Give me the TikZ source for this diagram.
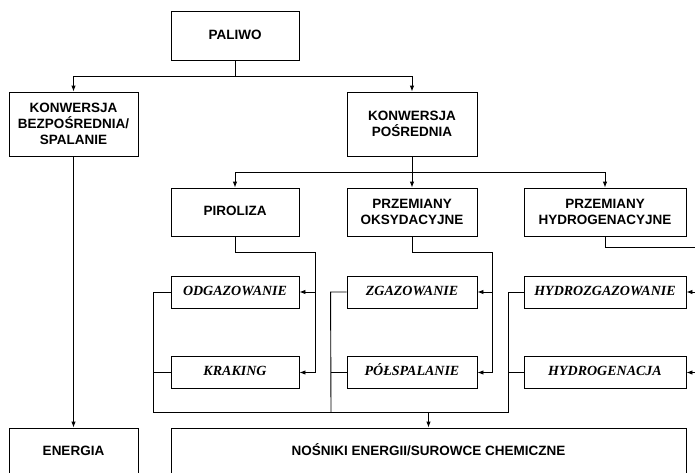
\documentclass[tikz,border=0pt]{standalone}
\usepackage{fontspec}
\setmainfont{Liberation Serif}
\setsansfont{Liberation Sans}
\usetikzlibrary{positioning, arrows.meta}

\begin{document}
\begin{tikzpicture}[>={Latex[length=6pt,width=4.5pt]}, x=1pt, y=-1pt, line width=0.9pt]
    \tikzstyle{blok}=[draw=black, rectangle, inner sep=0pt, align=center, font=\sffamily\bfseries\fontsize{13.5}{16}\selectfont]
    \tikzstyle{jedna}=[text height=10pt, text depth=3pt]
    \tikzstyle{proces}=[draw=black, rectangle, inner sep=0pt, minimum height=32pt, text height=9.5pt, text depth=3pt, font=\rmfamily\bfseries\itshape\fontsize{14}{16}\selectfont]
    \clip (0,0) rectangle (695,472);

    \node[blok, jedna, minimum width=128pt, minimum height=49pt] (paliwo) at (235,35.5) {PALIWO};
    \node[blok, minimum width=129pt, minimum height=64pt] (bezp) at (73.5,124) {KONWERSJA\\BEZPOŚREDNIA/\\SPALANIE};
    \node[blok, minimum width=130pt, minimum height=64pt] (posr) at (412,124) {KONWERSJA\\POŚREDNIA};
    \node[blok, jedna, minimum width=128pt, minimum height=48pt] (piroliza) at (235,212) {PIROLIZA};
    \node[blok, minimum width=130pt, minimum height=48pt] (oksy) at (412,212) {PRZEMIANY\\OKSYDACYJNE};
    \node[blok, minimum width=162pt, minimum height=48pt] (hydro) at (605,212) {PRZEMIANY\\HYDROGENACYJNE};

    \node[proces, minimum width=128pt] (odgaz) at (235,292) {ODGAZOWANIE};
    \node[proces, minimum width=128pt] (kraking) at (235,372.5) {KRAKING};
    \node[proces, minimum width=130pt] (zgaz) at (412,292) {ZGAZOWANIE};
    \node[proces, minimum width=130pt] (polsp) at (412,372.5) {PÓŁSPALANIE};
    \node[proces, minimum width=162pt] (hzgaz) at (605,292) {HYDROZGAZOWANIE};
    \node[proces, minimum width=162pt] (hgen) at (605,372.5) {HYDROGENACJA};

    \node[blok, jedna, minimum width=129pt, minimum height=48pt] (energia) at (73.5,452) {ENERGIA};
    \node[blok, jedna, minimum width=515pt, minimum height=48pt] (nosniki) at (428.5,452) {NOŚNIKI ENERGII/SUROWCE CHEMICZNE};

    % rozgalezienia
    \coordinate (r1) at (235,76);
    \coordinate (r2) at (412,172);
    \coordinate (p1) at (315,252);
    \coordinate (o1) at (492,252);
    \coordinate (h1) at (702,247);
    \coordinate (z1) at (428.5,412);

    \draw (paliwo.south) -- (r1);
    \draw[->] (r1) -| (bezp.north);
    \draw[->] (r1) -| (posr.north);
    \path (bezp) edge[->] (energia)
          (posr) edge[->] (oksy);
    \draw[->] (r2) -| (piroliza.north);
    \draw[->] (r2) -| (hydro.north);

    \draw[->] (piroliza.south) |- (p1) |- (kraking.east);
    \draw[->] (p1 |- odgaz.east) -- (odgaz.east);
    \draw[->] (oksy.south) |- (o1) |- (polsp.east);
    \draw[->] (o1 |- zgaz.east) -- (zgaz.east);
    \draw[->] (hydro.south) |- (h1) |- (hgen.east);
    \draw[->] (h1 |- hzgaz.east) -- (hzgaz.east);

    % zbieranie produktow
    \draw (odgaz.west) -- ++(-17,0) |- (508,412) -- (508,292) -- (hzgaz.west);
    \draw (kraking.west) -- ++(-17,0);
    \draw (zgaz.west) -- ++(-16,0) -- (331,412);
    \draw (polsp.west) -- ++(-16,0);
    \draw (hgen.west) -- ++(-16,0);
    \draw[->] (z1) -- (nosniki.north);
\end{tikzpicture}
\end{document}
